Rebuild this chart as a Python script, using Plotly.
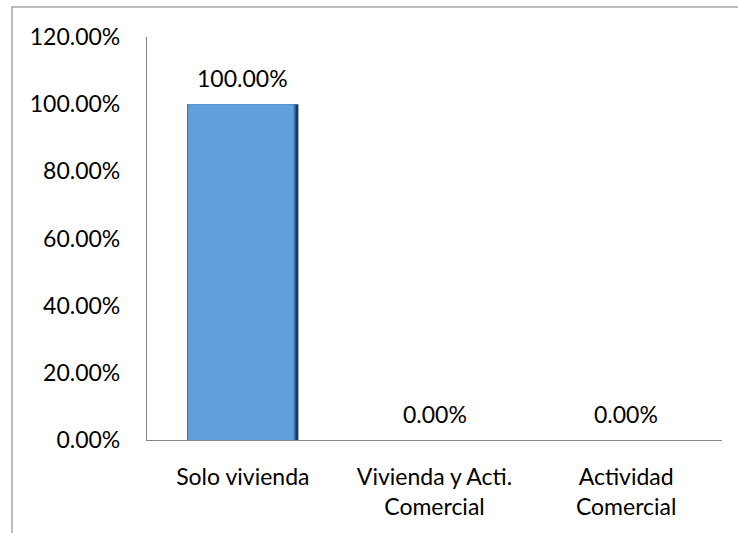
import plotly.graph_objects as go

categories = ["Solo vivienda", "Vivienda y Acti.<br>Comercial", "Actividad<br>Comercial"]
values = [1.00, 0.00, 0.00]
labels = ["100.00%", "0.00%", "0.00%"]
y_ticks = [0, 0.2, 0.4, 0.6, 0.8, 1.0, 1.2]
y_tick_labels = ["0.00%", "20.00%", "40.00%", "60.00%", "80.00%", "100.00%", "120.00%"]

FONT = "Lato, 'Open Sans', sans-serif"
FS = 23
W, H = 738, 533
L, R, T, B = 147, 16, 37, 93

fig = go.Figure()
# dark shadow edge
fig.add_trace(go.Bar(x=categories, y=values, width=0.58, offset=-0.29,
                     marker=dict(color="#1f3a56", line=dict(width=0)),
                     hoverinfo="skip", showlegend=False))
# mid edge
fig.add_trace(go.Bar(x=categories, y=values, width=0.565, offset=-0.29,
                     marker=dict(color="#3f75aa", line=dict(width=0)),
                     hoverinfo="skip", showlegend=False))
# main body
fig.add_trace(go.Bar(x=categories, y=values, width=0.55, offset=-0.285,
                     marker=dict(color="#60a1dd", line=dict(width=0)),
                     showlegend=False))

for c, v, t in zip(categories, values, labels):
    fig.add_annotation(x=c, y=v, text=t, showarrow=False, yanchor="middle",
                       yshift=26, font=dict(family=FONT, size=FS, color="#000000"))

plot_w = W - L - R
plot_h = H - T - B
# outer chart border (cropped Excel chart frame)
fig.add_shape(type="rect", xref="paper", yref="paper",
              x0=(12 - L) / plot_w, x1=(W + 20 - L) / plot_w,
              y0=-(H + 20 - T - plot_h) / plot_h, y1=(H - B - 7) / plot_h,
              line=dict(color="#a6a6a6", width=1.5), fillcolor="rgba(0,0,0,0)",
              layer="below")

fig.update_layout(
    width=W, height=H,
    margin=dict(l=L, r=R, t=T, b=B, pad=0),
    paper_bgcolor="white", plot_bgcolor="white",
    barmode="overlay",
    font=dict(family=FONT, size=FS, color="#000000"),
    showlegend=False,
)
fig.update_xaxes(showline=True, linecolor="#868686", linewidth=1.2,
                 showgrid=False, ticks="", ticklabelstandoff=16,
                 tickfont=dict(family=FONT, size=FS, color="#000000"))
fig.update_yaxes(range=[0, 1.2], tickvals=y_ticks, ticktext=y_tick_labels,
                 showline=True, linecolor="#868686", linewidth=1.2,
                 showgrid=False, zeroline=False, ticks="", ticklabelstandoff=21,
                 tickfont=dict(family=FONT, size=FS, color="#000000"))

fig.write_html("out.html", config={"displayModeBar": False},
               post_script="document.body.style.margin='0';document.body.style.overflow='hidden';")
